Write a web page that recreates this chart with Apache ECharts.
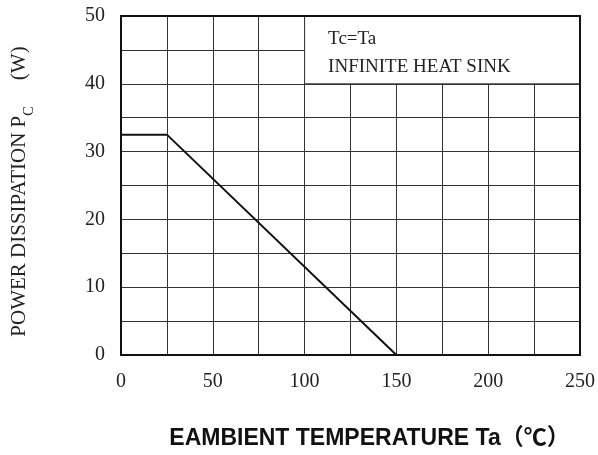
<!DOCTYPE html>
<html>
<head>
<meta charset="utf-8">
<script src="https://cdn.jsdelivr.net/npm/echarts@6/dist/echarts.min.js"></script>
<style>html,body{margin:0;padding:0;background:#fff;}#c{width:598px;height:455px;}</style>
</head>
<body>
<div id="c"></div>
<script>
// Data
var temperature = [0, 25, 150];
var powerDissipation = [32.5, 32.5, 0];
var xTickLabels = [0, 50, 100, 150, 200, 250];
var yTickLabels = [0, 10, 20, 30, 40, 50];
var noteLines = ['Tc=Ta', 'INFINITE HEAT SINK'];
var noteBox = [[100, 40], [250, 50]];

var serif = "'Liberation Serif', 'Times New Roman', serif";
var chart = echarts.init(document.getElementById('c'));
chart.setOption({
  animation: false,
  backgroundColor: '#fff',
  grid: { left: 121, right: 15, top: 16, bottom: 99, show: true, borderColor: '#111', borderWidth: 2, z: 10, backgroundColor: 'transparent' },
  xAxis: {
    type: 'value', min: 0, max: 250, interval: 25,
    name: 'EAMBIENT TEMPERATURE Ta（℃）',
    nameLocation: 'middle', nameGap: 72,
    nameTextStyle: { fontFamily: "'Liberation Sans', Arial, 'Noto Sans CJK SC', sans-serif", fontWeight: 'bold', fontSize: 23, color: '#111', padding: [0, 0, 0, 38] },
    axisLine: { show: false }, axisTick: { show: false },
    axisLabel: { margin: 17, fontFamily: serif, fontSize: 20, color: '#222',
      formatter: function (v) { return xTickLabels.indexOf(v) >= 0 ? String(v) : ''; } },
    splitLine: { show: true, lineStyle: { color: '#333', width: 1 } }
  },
  yAxis: {
    type: 'value', min: 0, max: 50, interval: 5,
    name: 'POWER DISSIPATION P{sub|C}     (W)',
    nameLocation: 'middle', nameGap: 91, nameRotate: 90,
    nameTextStyle: { fontFamily: serif, fontSize: 21, color: '#222', padding: [0, 12, 0, 0],
      rich: { sub: { fontFamily: serif, fontSize: 14, color: '#222', verticalAlign: 'bottom', padding: [0, 0, -6, 0] } } },
    axisLine: { show: false }, axisTick: { show: false },
    axisLabel: { margin: 16, fontFamily: serif, fontSize: 20, color: '#222',
      formatter: function (v) { return yTickLabels.indexOf(v) >= 0 ? String(v) : ''; } },
    splitLine: { show: true, lineStyle: { color: '#333', width: 1 } }
  },
  series: [{
    type: 'line',
    data: temperature.map(function (t, i) { return [t, powerDissipation[i]]; }),
    symbol: 'none',
    lineStyle: { color: '#111', width: 2 },
    markArea: {
      silent: true,
      itemStyle: { color: '#fff', borderColor: '#333', borderWidth: 1 },
      label: {
        show: true, position: [24, 10], fontFamily: serif, fontSize: 19, lineHeight: 28, color: '#222',
        formatter: noteLines.join('\n')
      },
      data: [[{ coord: noteBox[0] }, { coord: noteBox[1] }]]
    }
  }]
});
</script>
</body>
</html>
